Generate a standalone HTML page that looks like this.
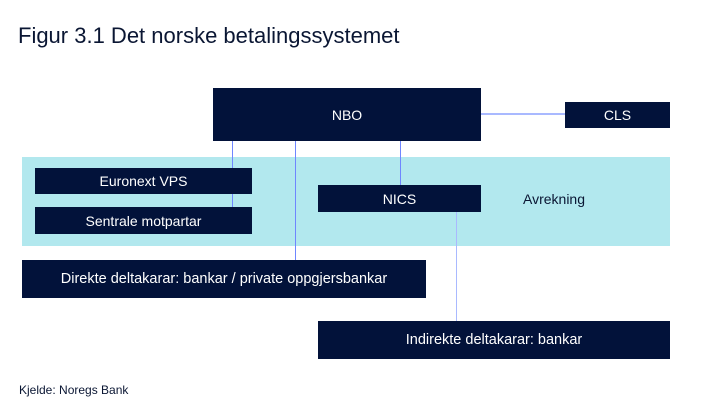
<!DOCTYPE html>
<html><head><style>
body{margin:0;width:722px;height:410px;background:#fff;position:relative;overflow:hidden;font-family:"Liberation Sans",sans-serif;}
.a{position:absolute;}
.b{position:absolute;background:#02123a;color:#fff;font-size:14px;display:flex;align-items:center;justify-content:center;}
.v{position:absolute;width:1px;background:#6f86ff;}
</style></head><body>
<div class="a" style="left:18px;top:23px;font-size:22px;color:#0a1633;">Figur 3.1 Det norske betalingssystemet</div>
<div class="a" style="left:22px;top:157px;width:648px;height:89px;background:#b2e8ee;"></div>
<div class="a" style="left:481px;top:113px;width:84px;height:2px;background:#a9b9ff;"></div>
<div class="v" style="left:232px;top:140px;height:68px;"></div>
<div class="v" style="left:295px;top:140px;height:121px;"></div>
<div class="v" style="left:400px;top:140px;height:45px;"></div>
<div class="v" style="left:456px;top:211px;height:111px;background:#a9b9ff;"></div>
<div class="b" style="left:213px;top:88px;width:268px;height:53px;">NBO</div>
<div class="b" style="left:565px;top:102px;width:105px;height:26px;">CLS</div>
<div class="b" style="left:35px;top:168px;width:217px;height:26px;">Euronext VPS</div>
<div class="b" style="left:35px;top:207px;width:217px;height:27px;">Sentrale motpartar</div>
<div class="b" style="left:318px;top:185px;width:163px;height:27px;">NICS</div>
<div class="a" style="left:523px;top:191px;font-size:14px;color:#0a1633;">Avrekning</div>
<div class="b" style="left:22px;top:260px;width:404px;height:38px;font-size:14.5px;">Direkte deltakarar: bankar / private oppgjersbankar</div>
<div class="b" style="left:318px;top:321px;width:352px;height:38px;font-size:14.5px;">Indirekte deltakarar: bankar</div>
<div class="a" style="left:19px;top:383px;font-size:12px;color:#0a1633;">Kjelde: Noregs Bank</div>
</body></html>
